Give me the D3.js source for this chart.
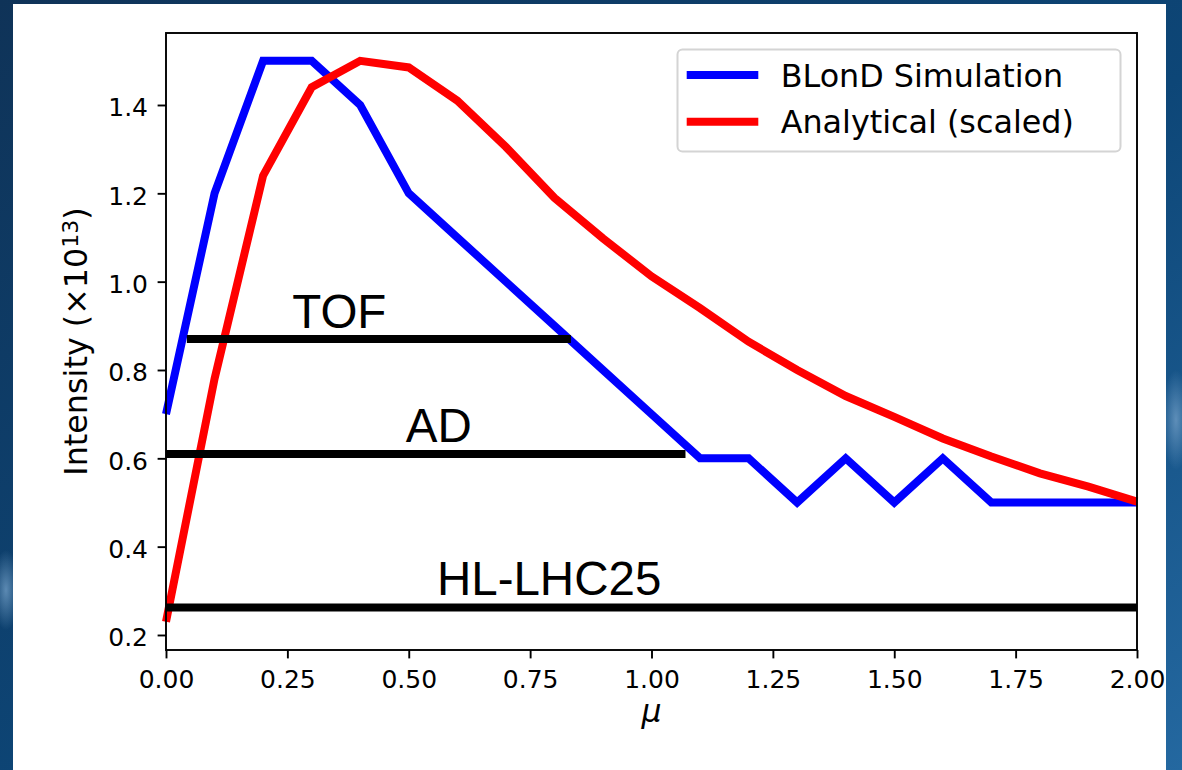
<!DOCTYPE html>
<html>
<head>
<meta charset="utf-8">
<script src="https://cdn.jsdelivr.net/npm/d3@7"></script>
<style>
  html, body { margin: 0; padding: 0; }
  body { width: 1182px; height: 770px; overflow: hidden; }
  svg { display: block; }
</style>
</head>
<body>
<svg id="chart" width="1182" height="770"></svg>
<script>
// data
const mu = [0.0, 0.1, 0.2, 0.3, 0.4, 0.5, 0.6, 0.7, 0.8, 0.9, 1.0, 1.1, 1.2, 1.3, 1.4, 1.5, 1.6, 1.7, 1.8, 1.9, 2.0];
const blondSim = [0.7, 1.2, 1.5, 1.5, 1.4, 1.2, 1.1, 1.0, 0.9, 0.8, 0.7, 0.6, 0.6, 0.5, 0.6, 0.5, 0.6, 0.5, 0.5, 0.5, 0.5];
const analytical = [0.23, 0.78, 1.24, 1.44, 1.50, 1.485, 1.41, 1.305, 1.19, 1.098, 1.012, 0.94, 0.864, 0.80, 0.741, 0.694, 0.645, 0.604, 0.566, 0.536, 0.502];

const seriesNames = ['BLonD Simulation', 'Analytical (scaled)'];
const seriesColors = ['#0000ff', '#ff0000'];

const refNames = ['TOF', 'AD', 'HL-LHC25'];
const refLevel = [0.87, 0.61, 0.262];
const refStart = [0.043, 0.0, 0.0];
const refEnd = [0.834, 1.07, 2.0];
const refLabelX = [0.26, 0.494, 0.558];
const refLabelY = [0.896, 0.636, 0.29];

const xTicks = [0, 0.25, 0.5, 0.75, 1.0, 1.25, 1.5, 1.75, 2.0];
const yTicks = [0.2, 0.4, 0.6, 0.8, 1.0, 1.2, 1.4];

const plot = { left: 166, right: 1137, top: 33, bottom: 650 };
const svg = d3.select('#chart');

// blurred blue background behind the white panel
const defs = svg.append('defs');
const bg = defs.append('linearGradient').attr('id', 'bg')
    .attr('x1', 0).attr('y1', 0).attr('x2', 1).attr('y2', 1);
bg.append('stop').attr('offset', '0%').attr('stop-color', '#0f3358');
bg.append('stop').attr('offset', '55%').attr('stop-color', '#0d4677');
bg.append('stop').attr('offset', '100%').attr('stop-color', '#2468a0');
const glow = defs.append('radialGradient').attr('id', 'glow');
glow.append('stop').attr('offset', '0%').attr('stop-color', '#6f9cc4').attr('stop-opacity', 0.8);
glow.append('stop').attr('offset', '100%').attr('stop-color', '#6f9cc4').attr('stop-opacity', 0);

svg.append('rect').attr('width', 1182).attr('height', 770).attr('fill', 'url(#bg)');
svg.append('ellipse').attr('cx', 6).attr('cy', 590).attr('rx', 14).attr('ry', 40).attr('fill', 'url(#glow)');
svg.append('ellipse').attr('cx', 1176).attr('cy', 420).attr('rx', 14).attr('ry', 50).attr('fill', 'url(#glow)');
svg.append('rect').attr('x', 13).attr('y', 4).attr('width', 1153).attr('height', 766).attr('fill', '#ffffff');

const x = d3.scaleLinear().domain([0, 2]).range([plot.left, plot.right]);
const y = d3.scaleLinear().domain([0.166, 1.563]).range([plot.bottom, plot.top]);

const line = d3.line().x(d => x(d[0])).y(d => y(d[1]));
const allSeries = [blondSim, analytical];

allSeries.forEach((vals, i) => {
    svg.append('path')
        .datum(mu.map((m, j) => [m, vals[j]]))
        .attr('d', line)
        .attr('fill', 'none')
        .attr('stroke', seriesColors[i])
        .attr('stroke-width', 8)
        .attr('stroke-linejoin', 'miter')
        .attr('stroke-linecap', 'butt');
});

// horizontal intensity limits
svg.selectAll('line.ref')
    .data(refNames)
    .enter()
    .append('line')
    .attr('class', 'ref')
    .attr('x1', (d, i) => x(refStart[i]))
    .attr('x2', (d, i) => x(refEnd[i]))
    .attr('y1', (d, i) => y(refLevel[i]))
    .attr('y2', (d, i) => y(refLevel[i]))
    .attr('stroke', '#000')
    .attr('stroke-width', 8);

svg.selectAll('text.ref-label')
    .data(refNames)
    .enter()
    .append('text')
    .attr('class', 'ref-label')
    .attr('x', (d, i) => x(refLabelX[i]))
    .attr('y', (d, i) => y(refLabelY[i]))
    .style('font-family', '"Liberation Sans", Arial, sans-serif')
    .style('font-size', '47.5px')
    .attr('fill', '#000')
    .text(d => d);

// axes
const xAxis = svg.append('g')
    .attr('transform', `translate(0, ${plot.bottom})`)
    .call(d3.axisBottom(x).tickValues(xTicks).tickFormat(d3.format('.2f')).tickSize(8.4).tickPadding(12).tickSizeOuter(0));
const yAxis = svg.append('g')
    .attr('transform', `translate(${plot.left}, 0)`)
    .call(d3.axisLeft(y).tickValues(yTicks).tickFormat(d3.format('.1f')).tickSize(8.4).tickPadding(9.6).tickSizeOuter(0));

[xAxis, yAxis].forEach(g => {
    g.select('.domain').remove();
    g.selectAll('line').attr('stroke', '#000').attr('stroke-width', 1.9);
    g.selectAll('text')
        .attr('fill', '#000')
        .style('font-family', '"DejaVu Sans", sans-serif')
        .style('font-size', '25px');
});
yAxis.selectAll('text').attr('dy', '0.43em');

svg.append('rect')
    .attr('x', plot.left).attr('y', plot.top)
    .attr('width', plot.right - plot.left).attr('height', plot.bottom - plot.top)
    .attr('fill', 'none').attr('stroke', '#000').attr('stroke-width', 1.9);

// axis labels
svg.append('text')
    .attr('x', (plot.left + plot.right) / 2)
    .attr('y', 722)
    .attr('text-anchor', 'middle')
    .style('font-family', '"DejaVu Sans", sans-serif')
    .style('font-style', 'italic')
    .style('font-size', '31.5px')
    .text('μ');

const yLab = svg.append('text')
    .attr('transform', `translate(86.7, ${(plot.top + plot.bottom) / 2}) rotate(-90)`)
    .attr('text-anchor', 'middle')
    .style('font-family', '"DejaVu Sans", sans-serif')
    .style('font-size', '31.8px');
yLab.append('tspan').text('Intensity (×10');
yLab.append('tspan').attr('baseline-shift', '42%').style('font-size', '22px').text('13');
yLab.append('tspan').text(')');

// legend
const legend = svg.append('g');
legend.append('rect')
    .attr('x', 677.5).attr('y', 49.5).attr('width', 443).attr('height', 102).attr('rx', 5)
    .attr('fill', '#fff').attr('fill-opacity', 0.8)
    .attr('stroke', '#d4d4d4').attr('stroke-width', 2);
seriesNames.forEach((name, i) => {
    const cy = 75 + i * 46.7;
    legend.append('line')
        .attr('x1', 686.7).attr('x2', 758.3).attr('y1', cy).attr('y2', cy)
        .attr('stroke', seriesColors[i]).attr('stroke-width', 8);
    legend.append('text')
        .attr('x', 780.7).attr('y', cy + 11.6)
        .style('font-family', '"DejaVu Sans", sans-serif')
        .style('font-size', '31.8px')
        .attr('fill', '#000')
        .text(name);
});
</script>
</body>
</html>
